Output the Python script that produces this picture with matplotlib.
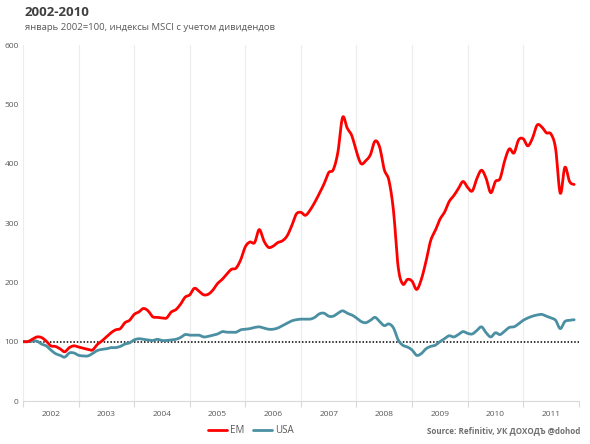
import matplotlib
matplotlib.use("Agg")
import matplotlib.pyplot as plt
import numpy as np

plt.rcParams["font.family"] = ["Open Sans", "DejaVu Sans"]

# monthly index values, Jan 2002 = 100
EM = [100, 100, 104, 108, 107, 101, 93, 92, 88, 83, 90, 93,
      91, 89, 87, 86, 95, 101, 108, 115, 120, 122, 132, 136,
      146, 150, 156, 152, 142, 141, 140, 140, 150, 154, 163, 175,
      179, 190, 185, 179, 180, 187, 198, 205, 214, 222, 224, 238,
      260, 268, 267, 289, 270, 259, 261, 267, 270, 278, 295, 315,
      318, 313, 322, 335, 350, 366, 385, 390, 420, 478, 460, 447,
      420, 400, 405, 415, 438, 428, 390, 372, 320, 226, 197, 205,
      202, 188, 205, 235, 270, 287, 306, 318, 336, 346, 358, 370,
      360, 354, 375, 389, 375, 351, 370, 375, 405, 425, 418, 440,
      442, 430, 443, 465, 462, 452, 450, 425, 350, 394, 370, 365]
USA = [100, 100, 101, 101, 96, 93, 86, 80, 77, 74, 81, 81,
       77, 76, 76, 80, 85, 87, 88, 90, 90, 92, 96, 98,
       103, 105, 104, 103, 102, 104, 102, 102, 103, 104, 107, 112,
       111, 111, 111, 108, 109, 111, 113, 117, 116, 116, 116, 120,
       121, 122, 124, 125, 123, 121, 121, 123, 127, 131, 135, 137,
       138, 138, 138, 141, 147, 148, 143, 143, 148, 152, 148, 145,
       140, 134, 132, 136, 141, 134, 127, 130, 123, 103, 94, 91,
       86, 77, 80, 88, 92, 94, 100, 105, 110, 108, 112, 117,
       114, 113, 119, 125, 115, 108, 115, 112, 118, 124, 125, 130,
       136, 140, 143, 145, 146, 143, 140, 136, 122, 134, 136, 137]
YEARS = [str(y) for y in range(2002, 2012)]
BASE = 100

EM_COLOR = "#FF0000"
USA_COLOR = "#4A90A2"
TEXT = "#595959"


def smooth(y, steps=8):
    # Catmull-Rom, roughly what Excel's "smoothed line" does
    y = np.asarray(y, dtype=float)
    p = np.concatenate([[y[0]], y, [y[-1]]])
    xs, ys = [], []
    t = np.linspace(0, 1, steps, endpoint=False)
    for i in range(1, len(p) - 2):
        p0, p1, p2, p3 = p[i - 1], p[i], p[i + 1], p[i + 2]
        seg = 0.5 * (2 * p1 + (-p0 + p2) * t + (2 * p0 - 5 * p1 + 4 * p2 - p3) * t ** 2
                     + (-p0 + 3 * p1 - 3 * p2 + p3) * t ** 3)
        xs.append(i - 1 + t)
        ys.append(seg)
    xs.append([len(y) - 1])
    ys.append([y[-1]])
    return np.concatenate(xs), np.concatenate(ys)


fig = plt.figure(figsize=(5.9, 4.44), dpi=100)
ax = fig.add_axes([0.039, 0.0968, 0.942, 0.8018])

n_months = 12 * len(YEARS)
ax.set_xlim(0, n_months)
ax.set_ylim(0, 600)

for x in range(0, n_months + 1, 12):
    ax.axvline(x, color="#ececec", linewidth=0.8, zorder=0)

ax.axhline(BASE, color="black", linestyle=(0, (1, 1.2)), linewidth=1.1, zorder=1)

mx, my = smooth(EM)
ax.plot(mx, my, color=EM_COLOR, linewidth=2.0, label="EM", zorder=3,
        solid_capstyle="round", solid_joinstyle="round")
mx, my = smooth(USA)
ax.plot(mx, my, color=USA_COLOR, linewidth=2.0, label="USA", zorder=2,
        solid_capstyle="round", solid_joinstyle="round")

for s in ("top", "right", "left"):
    ax.spines[s].set_visible(False)
ax.spines["bottom"].set_color("#d9d9d9")
ax.spines["bottom"].set_linewidth(0.8)

ax.set_xticks(range(0, n_months + 1, 12))
ax.set_xticklabels([])
ax.tick_params(axis="x", which="major", length=4, color="#d9d9d9", width=0.8)
ax.set_xticks(np.arange(6, n_months, 12), minor=True)
ax.set_xticklabels(YEARS, minor=True)
ax.tick_params(axis="x", which="minor", length=0, labelsize=6, labelcolor=TEXT, pad=7)

ax.set_yticks(range(0, 601, 100))
ax.tick_params(axis="y", length=0, labelsize=6, labelcolor=TEXT, pad=3)

fig.text(0.042, 0.972, "2002-2010", fontsize=9.5, fontweight="bold", color="#404040",
         ha="left", va="center")
fig.text(0.042, 0.937, "январь 2002=100, индексы MSCI с учетом дивидендов",
         fontsize=6.8, color=TEXT, ha="left", va="center")

leg = fig.legend(loc="center", bbox_to_anchor=(0.425, 0.03), ncol=2, frameon=False,
                 fontsize=7, handlelength=2.0, handletextpad=0.3, columnspacing=0.8,
                 labelcolor=TEXT)

fig.text(0.983, 0.03, "Source: Refinitiv, УК ДОХОДЪ @dohod", fontsize=5.8,
         fontweight="bold", color="#6f6f6f", ha="right", va="center")

fig.savefig("out.png", dpi=100)
